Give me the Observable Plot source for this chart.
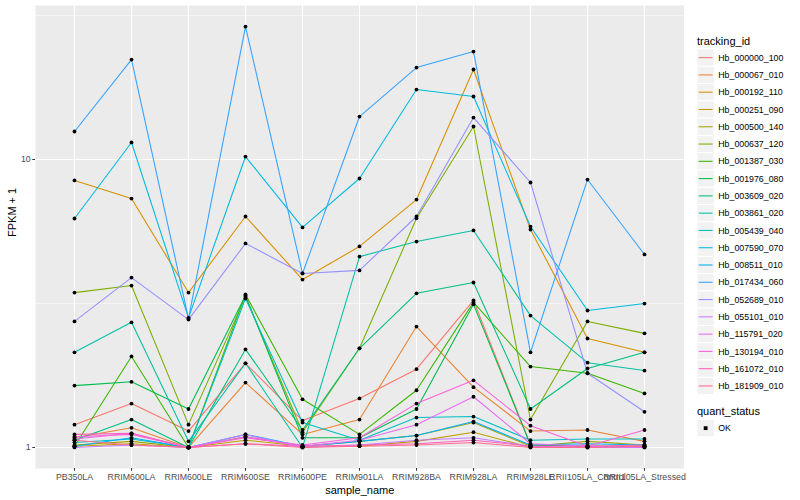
<!DOCTYPE html>
<html>
<head>
<meta charset="utf-8">
<script src="https://cdn.jsdelivr.net/npm/d3@7"></script>
<script src="https://cdn.jsdelivr.net/npm/@observablehq/plot@0.6"></script>
<style>
  html, body { margin: 0; padding: 0; background: white; }
  #wrap { position: relative; width: 800px; height: 500px; font-family: "Liberation Sans", Arial, sans-serif; }
  #legend { position: absolute; left: 684px; top: 0; }
</style>
</head>
<body>
<div id="wrap"><div id="chart"></div><svg id="legend" width="116" height="500"></svg></div>
<script>
const samples = ["PB350LA","RRIM600LA","RRIM600LE","RRIM600SE","RRIM600PE","RRIM901LA","RRIM928BA","RRIM928LA","RRIM928LE","RRII105LA_Control","RRII105LA_Stressed"];

const trackingIds = ["Hb_000000_100","Hb_000067_010","Hb_000192_110","Hb_000251_090","Hb_000500_140","Hb_000637_120","Hb_001387_030","Hb_001976_080","Hb_003609_020","Hb_003861_020","Hb_005439_040","Hb_007590_070","Hb_008511_010","Hb_017434_060","Hb_052689_010","Hb_055101_010","Hb_115791_020","Hb_130194_010","Hb_161072_010","Hb_181909_010"];

const idColors = ["#F8766D","#EA8331","#D89000","#C09B00","#A3A500","#7CAE00","#39B600","#00BB4E","#00BF7D","#00C1A3","#00BFC4","#00BAE0","#00B0F6","#35A2FF","#9590FF","#C77CFF","#E76BF3","#FA62DB","#FF62BC","#FF6C90"];

// FPKM per sample (same order as samples)
const Hb_000000_100 = [0.20, 0.42, 0.14, 0.96, 0.24, 0.48, 0.87, 2.24, 0.02, 0.01, 0.01];
const Hb_000067_010 = [0.08, 0.17, 0.00, 0.68, 0.11, 0.25, 1.63, 0.62, 0.14, 0.15, 0.05];
const Hb_000192_110 = [7.46, 6.32, 2.45, 5.34, 2.83, 3.99, 6.26, 19.54, 4.71, 1.39, 1.14];
const Hb_000251_090 = [0.01, 0.03, 0.00, 0.06, 0.01, 0.01, 0.05, 0.13, 0.00, 0.00, 0.01];
const Hb_000500_140 = [0.02, 0.05, 0.00, 0.09, 0.01, 0.05, 0.10, 0.22, 0.01, 0.05, 0.02];
const Hb_000637_120 = [2.45, 2.65, 0.20, 2.34, 0.13, 1.21, 5.25, 12.02, 0.25, 1.74, 1.49];
const Hb_001387_030 = [0.01, 1.07, 0.00, 2.40, 0.47, 0.11, 0.58, 2.19, 0.91, 0.81, 0.54];
const Hb_001976_080 = [0.64, 0.69, 0.36, 2.37, 0.08, 0.08, 0.36, 2.14, 0.02, 0.01, 0.01];
const Hb_003609_020 = [0.06, 0.25, 0.00, 1.19, 0.15, 1.21, 2.43, 2.74, 0.36, 0.88, 1.14];
const Hb_003861_020 = [1.14, 1.72, 0.05, 0.96, 0.00, 3.60, 4.19, 4.67, 1.87, 0.97, 0.85];
const Hb_005439_040 = [0.04, 0.07, 0.00, 2.29, 0.22, 0.06, 0.27, 0.28, 0.06, 0.07, 0.07];
const Hb_007590_070 = [5.24, 10.46, 1.82, 9.24, 4.81, 7.59, 16.50, 15.55, 4.85, 1.99, 2.16];
const Hb_008511_010 = [0.01, 0.08, 0.00, 0.11, 0.01, 0.05, 0.10, 0.23, 0.02, 0.03, 0.02];
const Hb_017434_060 = [11.51, 21.24, 1.80, 27.96, 3.02, 13.10, 19.86, 22.71, 1.14, 7.52, 3.68];
const Hb_052689_010 = [1.74, 2.89, 1.78, 4.11, 3.02, 3.12, 5.34, 12.99, 7.32, 0.81, 0.33];
const Hb_055101_010 = [0.00, 0.02, 0.00, 0.11, 0.00, 0.02, 0.06, 0.08, 0.01, 0.00, 0.00];
const Hb_115791_020 = [0.07, 0.12, 0.00, 0.09, 0.01, 0.06, 0.20, 0.50, 0.03, 0.01, 0.00];
const Hb_130194_010 = [0.09, 0.11, 0.00, 0.08, 0.02, 0.08, 0.42, 0.71, 0.19, 0.01, 0.15];
const Hb_161072_010 = [0.11, 0.12, 0.00, 0.03, 0.01, 0.02, 0.03, 0.06, 0.01, 0.01, 0.02];
const Hb_181909_010 = [0.06, 0.02, 0.00, 0.03, 0.00, 0.01, 0.02, 0.04, 0.00, 0.00, 0.01];

const yTicks = [1, 10];
const quantStatus = ["OK"];

const seriesValues = [Hb_000000_100, Hb_000067_010, Hb_000192_110, Hb_000251_090, Hb_000500_140, Hb_000637_120, Hb_001387_030, Hb_001976_080, Hb_003609_020, Hb_003861_020, Hb_005439_040, Hb_007590_070, Hb_008511_010, Hb_017434_060, Hb_052689_010, Hb_055101_010, Hb_115791_020, Hb_130194_010, Hb_161072_010, Hb_181909_010];

const rows = [];
trackingIds.forEach((id, i) => {
  samples.forEach((s, j) => rows.push({tracking_id: id, sample_name: s, fpkm1: seriesValues[i][j] + 1, quant_status: "OK"}));
});

// ggplot-like 5% expansion in log space
const ext = d3.extent(rows, d => Math.log10(d.fpkm1));
const pad = (ext[1] - ext[0]) * 0.05;
const yDomain = [10 ** (ext[0] - pad), 10 ** (ext[1] + pad)];

const font = "'Liberation Sans', Arial, sans-serif";

const chart = Plot.plot({
  width: 800,
  height: 500,
  marginLeft: 35,
  marginRight: 116.5,
  marginTop: 5,
  marginBottom: 32,
  style: {fontFamily: font, background: "white", overflow: "visible"},
  x: {type: "point", domain: samples, padding: 0.6, label: null},
  y: {type: "log", domain: yDomain, label: null},
  color: {domain: trackingIds, range: idColors},
  marks: [
    Plot.frame({fill: "#EBEBEB", stroke: null}),
    Plot.gridY([10 ** -0.5, 10 ** 0.5, 10 ** 1.5], {stroke: "white", strokeOpacity: 1, strokeWidth: 0.53}),
    Plot.gridY(yTicks, {stroke: "white", strokeOpacity: 1, strokeWidth: 1.07}),
    Plot.gridX(samples, {stroke: "white", strokeOpacity: 1, strokeWidth: 1.07}),
    Plot.line(rows, {x: "sample_name", y: "fpkm1", z: "tracking_id", stroke: "tracking_id", strokeWidth: 1.07}),
    Plot.dot(rows, {x: "sample_name", y: "fpkm1", fill: "black", stroke: "none", r: 1.9}),
    Plot.axisY(yTicks, {tickSize: 2.75, tickPadding: 2, fontSize: 8.8, stroke: "#333333", fill: "#4D4D4D", tickFormat: d => String(d), label: null}),
    Plot.axisX(samples, {tickSize: 2.75, tickPadding: 2, fontSize: 8.8, stroke: "#333333", fill: "#4D4D4D", label: null}),
    Plot.text(["sample_name"], {frameAnchor: "bottom", dy: 25, fontSize: 11, fill: "black", text: d => d}),
    Plot.text(["FPKM + 1"], {frameAnchor: "left", dx: -23, rotate: -90, fontSize: 11, fill: "black", text: d => d})
  ]
});
document.getElementById("chart").appendChild(chart);

// Legends (ggplot-style)
const lg = d3.select("#legend");
const x0 = 13;           // key left (in legend svg coords)
const key = 17.28;
lg.append("text").attr("x", x0).attr("y", 44.5).attr("font-family", font).attr("font-size", 11).attr("fill", "black").text("tracking_id");
trackingIds.forEach((id, i) => {
  const top = 49 + i * key;
  lg.append("rect").attr("x", x0).attr("y", top).attr("width", key).attr("height", key).attr("fill", "#F2F2F2").attr("stroke", "white").attr("stroke-width", 1);
  lg.append("line").attr("x1", x0 + 1.7).attr("x2", x0 + key - 1.7).attr("y1", top + key / 2).attr("y2", top + key / 2).attr("stroke", idColors[i]).attr("stroke-width", 1.07);
  lg.append("text").attr("x", x0 + key + 4).attr("y", top + key / 2 + 3.1).attr("font-family", font).attr("font-size", 8.8).attr("fill", "black").text(id);
});
lg.append("text").attr("x", x0).attr("y", 415).attr("font-family", font).attr("font-size", 11).attr("fill", "black").text("quant_status");
quantStatus.forEach((q, i) => {
  const top = 419.5 + i * key;
  lg.append("rect").attr("x", x0).attr("y", top).attr("width", key).attr("height", key).attr("fill", "#F2F2F2").attr("stroke", "white").attr("stroke-width", 1);
  lg.append("rect").attr("x", x0 + key / 2 - 1.9).attr("y", top + key / 2 - 1.9).attr("width", 3.8).attr("height", 3.8).attr("fill", "black");
  lg.append("text").attr("x", x0 + key + 4).attr("y", top + key / 2 + 3.1).attr("font-family", font).attr("font-size", 8.8).attr("fill", "black").text(q);
});
</script>
</body>
</html>
